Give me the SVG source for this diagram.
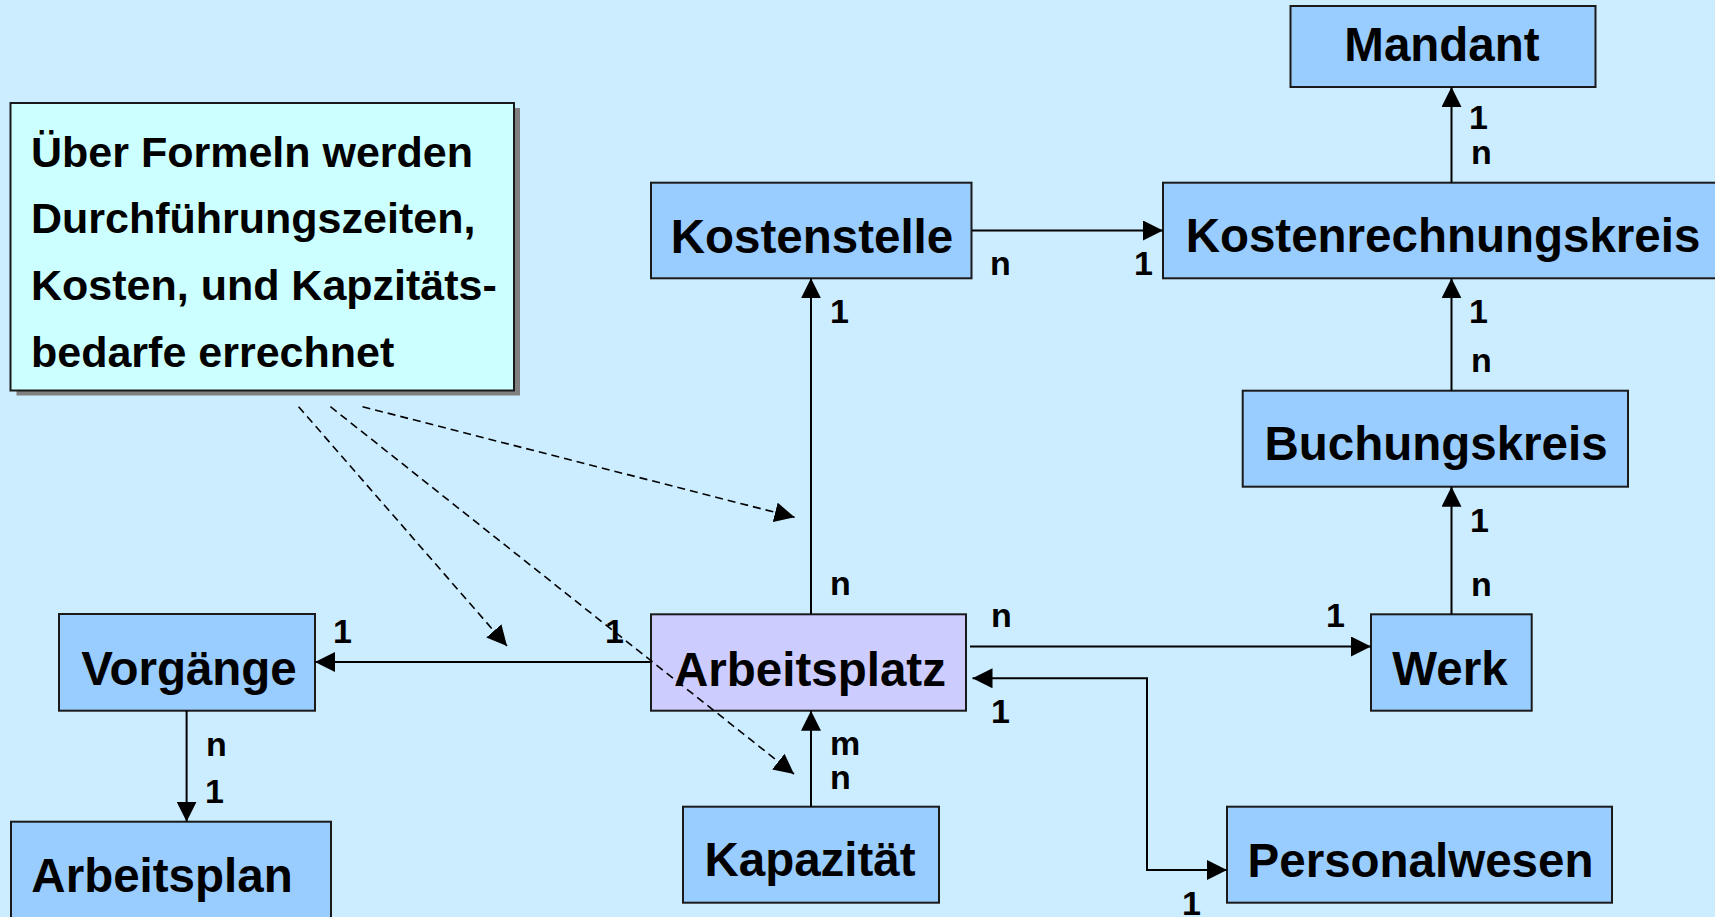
<svg xmlns="http://www.w3.org/2000/svg" width="1715" height="917" viewBox="0 0 1715 917">
<defs>
<style>
.node{fill:#99CCFF;stroke:#1a1a1a;stroke-width:2}
.main{fill:#CCCCFF;stroke:#1a1a1a;stroke-width:2}
.note{fill:#CCFFFF;stroke:#1a1a1a;stroke-width:2}
.shadow{fill:#808080}
.nt{font-family:"Liberation Sans",Arial,sans-serif;font-weight:bold;font-size:47.5px;fill:#000;text-anchor:middle}
.notet{font-family:"Liberation Sans",Arial,sans-serif;font-weight:bold;font-size:43px;fill:#000}
.lbl{font-family:"Liberation Sans",Arial,sans-serif;font-weight:bold;font-size:34px;fill:#000}
.edge{fill:none;stroke:#000;stroke-width:2}
.dash{fill:none;stroke:#000;stroke-width:1.6;stroke-dasharray:8,5}
</style>
<marker id="arr" viewBox="0 0 20 20" refX="20" refY="10" markerWidth="20" markerHeight="20" markerUnits="userSpaceOnUse" orient="auto-start-reverse">
<path d="M0,0 L20,10 L0,20 z" fill="#000"/>
</marker>
</defs>
<rect x="0" y="0" width="1715" height="917" fill="#CCECFF"/>

<g id="note">
<rect class="shadow" x="16.5" y="108" width="503.5" height="287.5"/>
<rect class="note" x="10.5" y="103" width="503.5" height="287.5"/>
<text class="notet" x="31" y="166.5">Über Formeln werden</text>
<text class="notet" x="31" y="233">Durchführungszeiten,</text>
<text class="notet" x="31" y="300">Kosten, und Kapzitäts-</text>
<text class="notet" x="31" y="366.5">bedarfe errechnet</text>
</g>

<g id="mandant">
<rect class="node" x="1290.5" y="6" width="305" height="81"/>
<text class="nt" x="1442" y="61">Mandant</text>
</g>

<g id="kostenstelle">
<rect class="node" x="651" y="182.7" width="320.5" height="95.6"/>
<text class="nt" x="812" y="252.5">Kostenstelle</text>
</g>

<g id="kostenrechnungskreis">
<rect class="node" x="1163" y="182.7" width="560" height="95.6"/>
<text class="nt" x="1443" y="251.7">Kostenrechnungskreis</text>
</g>

<g id="buchungskreis">
<rect class="node" x="1242.7" y="390.7" width="385.3" height="96"/>
<text class="nt" x="1436" y="460">Buchungskreis</text>
</g>

<g id="werk">
<rect class="node" x="1371" y="614.3" width="160.7" height="96.4"/>
<text class="nt" x="1450" y="684.5">Werk</text>
</g>

<g id="arbeitsplatz">
<rect class="main" x="651" y="614.3" width="315" height="96.4"/>
<text class="nt" x="810" y="686">Arbeitsplatz</text>
</g>

<g id="vorgaenge">
<rect class="node" x="59" y="614" width="256" height="96.7"/>
<text class="nt" x="189" y="685">Vorgänge</text>
</g>

<g id="arbeitsplan">
<rect class="node" x="11" y="821.7" width="320" height="120"/>
<text class="nt" x="162" y="892">Arbeitsplan</text>
</g>

<g id="kapazitaet">
<rect class="node" x="683" y="806.7" width="256" height="96"/>
<text class="nt" x="810" y="876">Kapazität</text>
</g>

<g id="personalwesen">
<rect class="node" x="1227" y="806.7" width="385" height="96"/>
<text class="nt" x="1420.5" y="876.7">Personalwesen</text>
</g>

<g id="connectors">
<line class="edge" x1="972" y1="230.5" x2="1163" y2="230.5" marker-end="url(#arr)"/>
<line class="edge" x1="1451.5" y1="182.7" x2="1451.5" y2="87" marker-end="url(#arr)"/>
<line class="edge" x1="1451.5" y1="390.7" x2="1451.5" y2="278.3" marker-end="url(#arr)"/>
<line class="edge" x1="1451.5" y1="614.3" x2="1451.5" y2="486.7" marker-end="url(#arr)"/>
<line class="edge" x1="811" y1="614.3" x2="811" y2="278.3" marker-end="url(#arr)"/>
<line class="edge" x1="970" y1="646.5" x2="1371" y2="646.5" marker-end="url(#arr)"/>
<polyline class="edge" points="972.5,678.3 1147,678.3 1147,870 1227,870" marker-start="url(#arr)" marker-end="url(#arr)"/>
<line class="edge" x1="651" y1="662" x2="315" y2="662" marker-end="url(#arr)"/>
<line class="edge" x1="186.6" y1="710.7" x2="186.6" y2="821.7" marker-end="url(#arr)"/>
<line class="edge" x1="811" y1="806.7" x2="811" y2="710.7" marker-end="url(#arr)"/>

<line class="dash" x1="298.6" y1="406.7" x2="507" y2="646" marker-end="url(#arr)"/>
<line class="dash" x1="330.4" y1="406.7" x2="794" y2="774" marker-end="url(#arr)"/>
<line class="dash" x1="362.5" y1="406.7" x2="794.6" y2="517.3" marker-end="url(#arr)"/>

<text class="lbl" x="990" y="275">n</text>
<text class="lbl" x="1134" y="275">1</text>
<text class="lbl" x="1469" y="129">1</text>
<text class="lbl" x="1471" y="164">n</text>
<text class="lbl" x="1469" y="323">1</text>
<text class="lbl" x="1471" y="372">n</text>
<text class="lbl" x="1470" y="531.7">1</text>
<text class="lbl" x="1471" y="595.7">n</text>
<text class="lbl" x="830" y="323">1</text>
<text class="lbl" x="830" y="595">n</text>
<text class="lbl" x="991" y="626.7">n</text>
<text class="lbl" x="1326" y="626.7">1</text>
<text class="lbl" x="991" y="722.7">1</text>
<text class="lbl" x="1182" y="915">1</text>
<text class="lbl" x="333" y="643">1</text>
<text class="lbl" x="605" y="643">1</text>
<text class="lbl" x="206" y="755.7">n</text>
<text class="lbl" x="205" y="803">1</text>
<text class="lbl" x="830" y="755">m</text>
<text class="lbl" x="830" y="789">n</text>
</g>
</svg>
